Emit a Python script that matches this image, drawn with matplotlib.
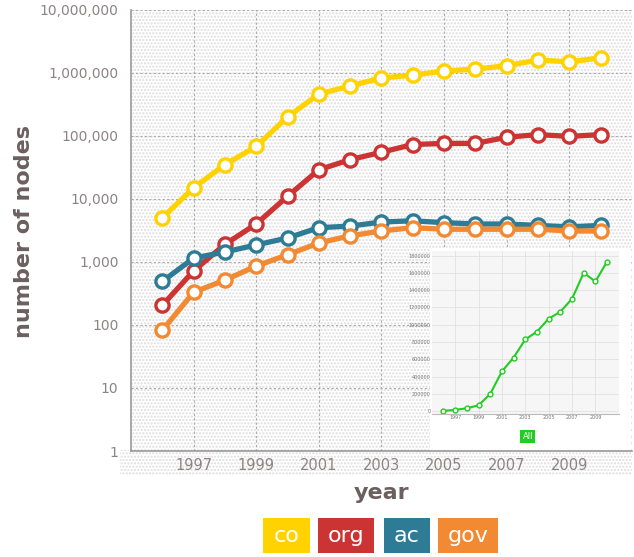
import numpy as np
import matplotlib.pyplot as plt
from matplotlib.patches import Rectangle
from matplotlib.ticker import FixedLocator, FuncFormatter

years = np.arange(1996, 2011)
co = [5000, 15000, 35000, 68000, 200000, 460000, 620000, 830000, 920000,
      1070000, 1150000, 1300000, 1600000, 1500000, 1730000]
org = [205, 720, 1900, 4000, 11000, 29000, 42000, 55000, 73000,
       76000, 76000, 95000, 105000, 98000, 105000]
ac = [490, 1150, 1440, 1860, 2400, 3500, 3700, 4300, 4500,
      4200, 4000, 4000, 3800, 3600, 3800]
gov = [82, 330, 515, 860, 1300, 2000, 2600, 3100, 3500,
       3300, 3300, 3300, 3300, 3100, 3100]
names = ['co', 'org', 'ac', 'gov']
colors = ['#ffd200', '#cc3333', '#2e7b96', '#f28a33']
year_ticks = [1997, 1999, 2001, 2003, 2005, 2007, 2009]
inset_ticks = [0, 200000, 400000, 600000, 800000, 1000000, 1200000, 1400000, 1600000, 1800000]

fig = plt.figure(figsize=(6.34, 5.57), dpi=100)
fig.patch.set_facecolor('white')

# dotted texture below the axes (tick label band)
fig.patches.append(Rectangle((0.19, 0.147), 0.807, 0.045, transform=fig.transFigure,
                             facecolor='white', edgecolor='#dddddd', hatch='.....',
                             linewidth=0, zorder=-1))

ax = fig.add_axes([0.2066, 0.1903, 0.790, 0.792])
ax.set_facecolor('white')
ax.add_patch(Rectangle((0, 0), 1, 1, transform=ax.transAxes, facecolor='white',
                       edgecolor='#dddddd', hatch='.....', linewidth=0, zorder=0))

for vals, c in zip([co, org, ac, gov], colors):
    ax.plot(years, vals, color=c, lw=3.8, marker='o', ms=9.5, mfc='white',
            mec=c, mew=2.4, zorder=3, solid_capstyle='round')

ax.set_yscale('log')
ax.set_ylim(1, 1e7)
ax.set_xlim(1995, 2011)
ax.yaxis.set_major_locator(FixedLocator([10 ** i for i in range(8)]))
ax.yaxis.set_minor_locator(FixedLocator([]))
ax.yaxis.set_major_formatter(FuncFormatter(lambda v, p: '{:,}'.format(int(round(v)))))
ax.set_xticks(year_ticks)
ax.grid(True, color='#aaaaaa', linestyle=(0, (2, 2)), linewidth=0.8, zorder=1)
ax.set_axisbelow(True)
ax.tick_params(axis='y', length=0, colors='#8c8484', labelsize=10, pad=9)
ax.tick_params(axis='x', length=0, colors='#8c8484', labelsize=10.5, pad=5)
for s in ['top', 'right']:
    ax.spines[s].set_visible(False)
for s in ['left', 'bottom']:
    ax.spines[s].set_color('#999999')
    ax.spines[s].set_linewidth(1.2)

ax.set_ylabel('number of nodes', fontsize=16, fontweight='bold', color='#6b5f5f')
ax.yaxis.set_label_coords(-0.194, 0.497)
ax.set_xlabel('year', fontsize=16, fontweight='bold', color='#6b5f5f', labelpad=7)

# inset panel
fig.patches.append(Rectangle((0.678, 0.192), 0.318, 0.363, transform=fig.transFigure,
                             facecolor='white', edgecolor='none', zorder=4))
iax = fig.add_axes([0.681, 0.257, 0.295, 0.292], zorder=5)
iax.set_facecolor('#f6f6f6')
iax.plot(years, co, color='#22cc22', lw=1.5, marker='o', ms=3.5, mfc='white',
         mec='#22cc22', mew=1.0)
iax.set_xlim(1995, 2011)
iax.set_ylim(-30000, 1850000)
iax.set_xticks(year_ticks)
iax.set_yticks(inset_ticks)
iax.set_yticklabels([str(v) for v in inset_ticks])
iax.tick_params(length=0, labelsize=3.5, colors='#777777', pad=1)
iax.grid(True, color='#dddddd', lw=0.5)
for s in iax.spines.values():
    s.set_visible(False)
iax.spines['bottom'].set_visible(True)
iax.spines['bottom'].set_color('#bbbbbb')
fig.text(0.8325, 0.217, 'All', ha='center', va='center', fontsize=6, color='white',
         zorder=6, bbox=dict(boxstyle='square,pad=0.25', fc='#22cc22', ec='none'))

# legend boxes
box_x = [263, 318, 384, 438]
box_w = [47, 56, 46, 60]
for name, c, bx, bw in zip(names, colors, box_x, box_w):
    fig.patches.append(Rectangle((bx / 634, (557 - 553) / 557), bw / 634, 35 / 557,
                                 transform=fig.transFigure, facecolor=c, edgecolor='none'))
    fig.text((bx + bw / 2) / 634, (557 - 536) / 557, name, ha='center', va='center',
             fontsize=16, color='white')

fig.savefig('out.png', dpi=100)
